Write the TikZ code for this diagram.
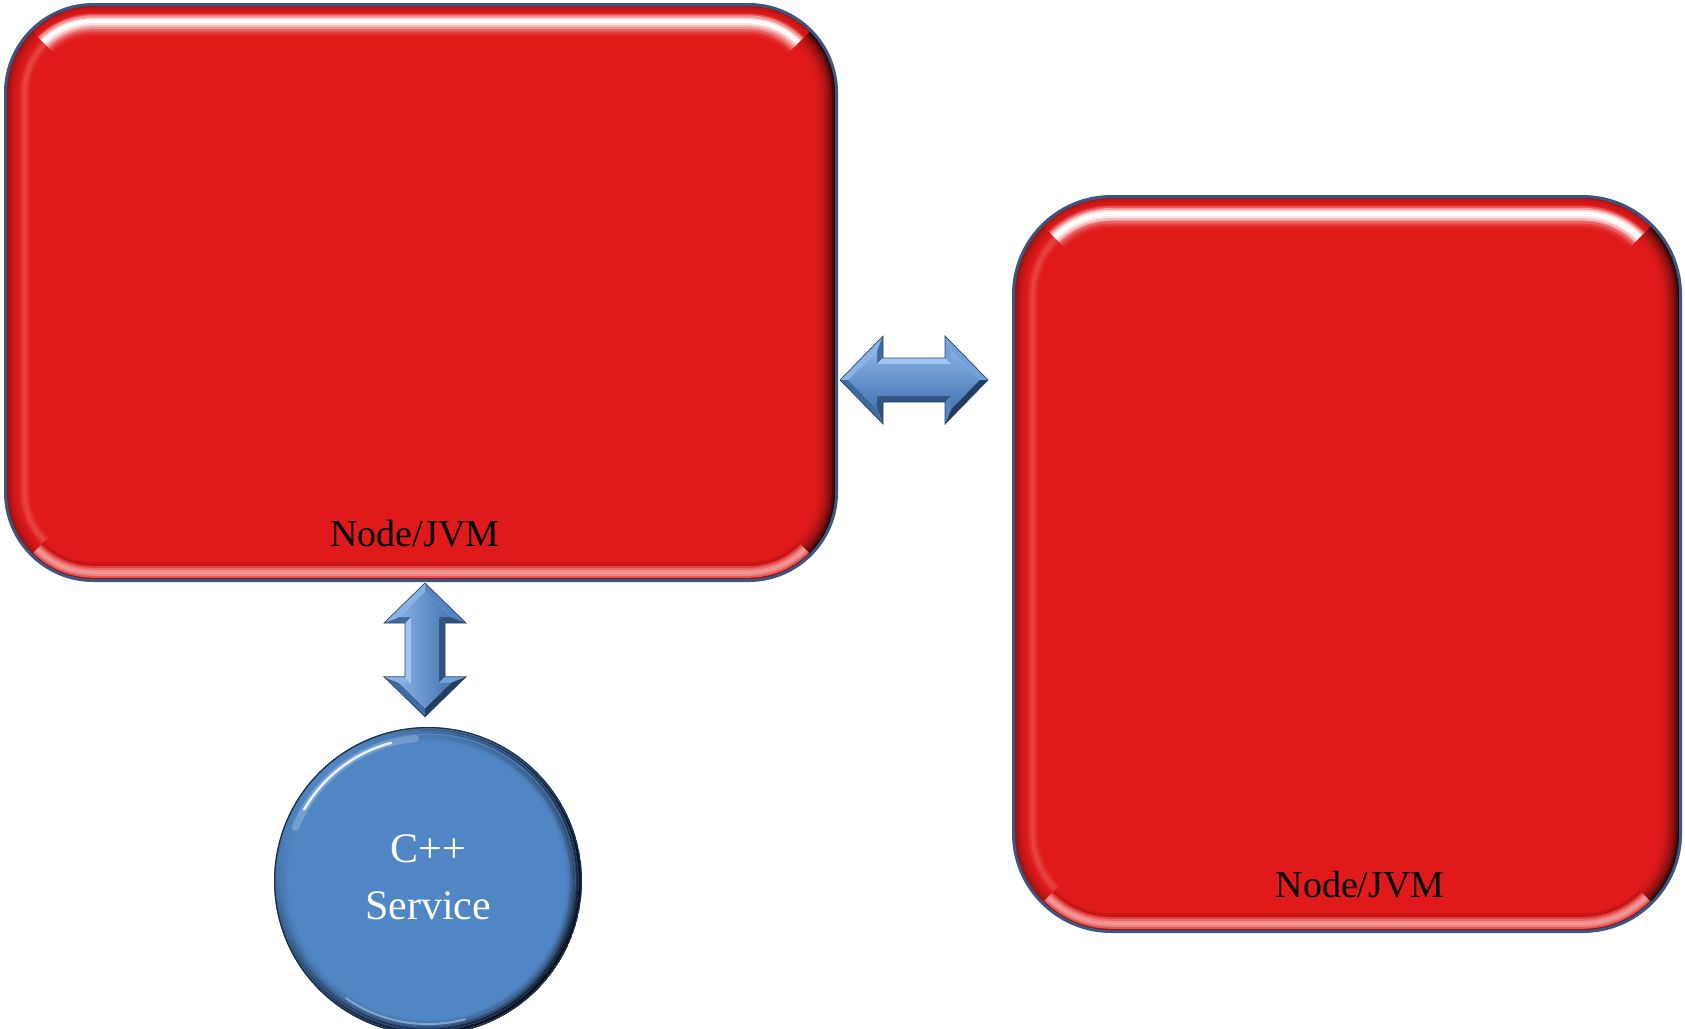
\documentclass[tikz,border=0pt]{standalone}
\usepackage{fontspec}
\setmainfont{Liberation Serif}
\usetikzlibrary{calc,fadings}

\definecolor{boxred}{HTML}{E01A1A}
\definecolor{edgeblue}{HTML}{3A5782}
\definecolor{svcblue}{HTML}{5186C4}
\definecolor{arrowline}{HTML}{2A4670}
\definecolor{arrowhi}{HTML}{86B0E4}
\definecolor{arrowface}{HTML}{6794CE}
\definecolor{arrowlow}{HTML}{4675B2}
% bevel facet colours, from lightest to darkest
\definecolor{facetA}{HTML}{A2C6F0}
\definecolor{facetB}{HTML}{8AB3E5}
\definecolor{facetC}{HTML}{72A0D8}
\definecolor{facetD}{HTML}{5585C0}
\definecolor{facetE}{HTML}{40699F}
\definecolor{facetF}{HTML}{30527F}
\definecolor{facetG}{HTML}{233D63}

% highlight that fades out towards both ends of an edge
\pgfdeclarehorizontalshading{glintshade}{100bp}{%
  color(0bp)=(pgftransparent!100); color(2bp)=(pgftransparent!100);
  color(9bp)=(pgftransparent!0); color(85bp)=(pgftransparent!0);
  color(94bp)=(pgftransparent!100); color(100bp)=(pgftransparent!100)}
\pgfdeclarefading{glint}{\pgfuseshading{glintshade}}

% one side of the bevelled rim: concentric rounded outlines clipped to a wedge
% #1 clip wedge, #2 corner radius, #3 inset/colour list, #4 extra stroke options
\newcommand\rimside[4]{%
  \begin{scope}
    \path[sharp corners, clip] #1;
    \foreach \rimd/\rimc in {#3} {
      \pgfmathsetmacro\rr{#2-\rimd}
      \draw[draw=\rimc, line width=2.6pt, rounded corners=\rr pt, #4]
        ($(pnw)+(\rimd,\rimd)$) rectangle ($(pse)+(-\rimd,-\rimd)$);
    }
  \end{scope}}

% glossy bevel for the red boxes, #1 = corner radius
\newcommand\bevelbox[1]{%
  \coordinate (pnw) at (path picture bounding box.north west);
  \coordinate (pse) at (path picture bounding box.south east);
  \coordinate (pne) at (path picture bounding box.north east);
  \coordinate (psw) at (path picture bounding box.south west);
  % left
  \rimside{(psw) -- (pnw) -- ($(pnw)+(200,200)$) -- ($(psw)+(200,-200)$) -- cycle}{#1}%
    {0/boxred!55!black, 2/boxred!65!black, 4/boxred!75!black, 6/boxred!82!black,
     8/boxred!88!black, 10/boxred!93!black, 12/boxred!97!black, 14/boxred,
     16/boxred!92!white, 18/boxred!85!white, 20/boxred!82!white, 22/boxred!88!white,
     24/boxred!95!white, 26/boxred}{}
  % right
  \rimside{(pne) -- (pse) -- ($(pse)+(-200,-200)$) -- ($(pne)+(-200,200)$) -- cycle}{#1}%
    {0/black, 2/boxred!15!black, 4/boxred!35!black, 6/boxred!50!black,
     8/boxred!62!black, 10/boxred!72!black, 12/boxred!80!black, 14/boxred!86!black,
     16/boxred!91!black, 18/boxred!95!black, 20/boxred!98!black, 22/boxred}{}
  % bottom
  \rimside{(pse) -- (psw) -- ($(psw)+(200,-200)$) -- ($(pse)+(-200,-200)$) -- cycle}{#1}%
    {0/boxred!50!black, 2/boxred!65!black, 4/boxred!75!white, 6/boxred!55!white,
     8/boxred!45!white, 10/boxred!50!white, 12/boxred!65!white, 14/boxred!85!white,
     16/boxred!85!black, 18/boxred!92!black, 20/boxred}{}
  % top: plain rim first, then the white glint fading out at the corners
  \rimside{(pnw) -- (pne) -- ($(pne)+(-200,200)$) -- ($(pnw)+(200,200)$) -- cycle}{#1}%
    {0/boxred!60!black, 2/boxred!75!black, 4/boxred!85!black, 6/boxred!92!black,
     8/boxred!97!black, 10/boxred!97!white, 12/boxred!92!white, 14/boxred!88!white,
     16/boxred!88!white, 18/boxred!92!white, 20/boxred!96!white, 22/boxred}{}
  \rimside{(pnw) -- (pne) -- ($(pne)+(-200,200)$) -- ($(pnw)+(200,200)$) -- cycle}{#1}%
    {10/boxred!75!white, 12/boxred!45!white, 14/boxred!15!white,
     16/white, 18/white, 20/boxred!10!white, 22/boxred!30!white, 24/boxred!50!white,
     26/boxred!70!white, 28/boxred!85!white, 30/boxred!95!white}{path fading=glint}
}

% glossy bevel for the round service node (angles and radii in canvas units)
\newcommand\bevelcircle{%
  \coordinate (pc) at (path picture bounding box.center);
  \foreach \rimd/\rimo in {1/0.95, 2.5/0.88, 4/0.75, 5.5/0.62, 7/0.5, 8.5/0.38, 10/0.27, 11.5/0.17, 13/0.09, 14.5/0.04} {
    \pgfmathsetmacro\rr{154-\rimd}
    \draw[black, line width=1.7pt, opacity=\rimo, path fading=north, fading angle=45]
      (pc) circle[radius=\rr pt];
  }
  \draw[edgeblue!55!black, line width=1.6pt] (pc) circle[radius=153.5pt];
  \draw[white, line width=7pt, opacity=0.22, line cap=round]
    ($(pc)+(158:143pt)$) arc[start angle=158, end angle=95, radius=143pt];
  \draw[white, line width=2.5pt, opacity=0.85, line cap=round]
    ($(pc)+(150:143pt)$) arc[start angle=150, end angle=105, radius=143pt];
  \draw[svcblue!40!white, line width=2pt, opacity=0.55, line cap=round]
    ($(pc)+(-125:143pt)$) arc[start angle=-125, end angle=-75, radius=143pt];
}

% bevelled double arrow: outer points (#1)0..9, inner points (#1i)0..9,
% #2 = facet colours for the ten edges, #3 = shading of the top face
\newcommand\bevelarrow[3]{%
  \foreach \ea/\eb/\ec in {#2}
    \fill[\ec] (#1\ea) -- (#1\eb) -- (#1i\eb) -- (#1i\ea) -- cycle;
  \shade[#3] (#1i0) -- (#1i1) -- (#1i2) -- (#1i3) -- (#1i4) -- (#1i5)
    -- (#1i6) -- (#1i7) -- (#1i8) -- (#1i9) -- cycle;
  \draw[arrowline, line width=0.7pt, line join=miter]
    (#10) -- (#11) -- (#12) -- (#13) -- (#14) -- (#15)
    -- (#16) -- (#17) -- (#18) -- (#19) -- cycle;
}

\begin{document}
\begin{tikzpicture}[x=1pt, y=-1pt,
  redbox/.style={rectangle, rounded corners=#1pt, draw=edgeblue, line width=3pt,
    fill=boxred, inner sep=0pt, path picture={\bevelbox{#1}}},
  svc/.style={circle, minimum size=308pt, inner sep=0pt, fill=svcblue, text=white,
    align=center, font=\fontsize{42}{57}\selectfont, text depth=8pt,
    path picture={\bevelcircle}},
  jvmlabel/.style={anchor=base, inner sep=0pt, font=\fontsize{38}{40}\selectfont, text=black},
]
\useasboundingbox (0,0) rectangle (1685,1028);
\fill[white] (0,0) rectangle (1685,1028);

% nodes
\node[redbox=88, minimum width=831pt, minimum height=576pt] (box1) at (421,292.5) {};
\node[redbox=98, minimum width=667pt, minimum height=735pt] (box2) at (1347,564) {};
\node[svc] (svc) at (428,881) {C++\\Service};

\node[jvmlabel] (lbl1) at ([xshift=-6pt, yshift=36pt]box1.south) {Node/JVM};
\node[jvmlabel] (lbl2) at ([xshift=13pt, yshift=36pt]box2.south) {Node/JVM};

% arrow end points
\coordinate (hL) at ([xshift=2pt, yshift=-87.5pt]box1.east);
\coordinate (hR) at ([xshift=-24pt, yshift=184pt]box2.west);
\coordinate (vT) at ([xshift=4pt, yshift=-1pt]box1.south);
\coordinate (vB) at ([xshift=-3pt, yshift=10pt]svc.north);

% horizontal double arrow between the two boxes
\coordinate (h0) at (hL);
\coordinate (h1) at ($(hL)+(43,-44)$);
\coordinate (h2) at ($(hL)+(43,-22)$);
\coordinate (h3) at ($(hR)+(-43,-22)$);
\coordinate (h4) at ($(hR)+(-43,-44)$);
\coordinate (h5) at (hR);
\coordinate (h6) at ($(hR)+(-43,44)$);
\coordinate (h7) at ($(hR)+(-43,22)$);
\coordinate (h8) at ($(hL)+(43,22)$);
\coordinate (h9) at ($(hL)+(43,44)$);
\coordinate (hi0) at ($(hL)+(8.5,0)$);
\coordinate (hi1) at ($(hL)+(37,-29)$);
\coordinate (hi2) at ($(hL)+(37,-16)$);
\coordinate (hi3) at ($(hR)+(-37,-16)$);
\coordinate (hi4) at ($(hR)+(-37,-29)$);
\coordinate (hi5) at ($(hR)+(-8.5,0)$);
\coordinate (hi6) at ($(hR)+(-37,29)$);
\coordinate (hi7) at ($(hR)+(-37,16)$);
\coordinate (hi8) at ($(hL)+(37,16)$);
\coordinate (hi9) at ($(hL)+(37,29)$);
\bevelarrow{h}{0/1/facetB, 1/2/facetE, 2/3/facetA, 3/4/facetC, 4/5/facetC,
  5/6/facetG, 6/7/facetD, 7/8/facetF, 8/9/facetF, 9/0/facetE}
  {top color=arrowhi, middle color=arrowface, bottom color=arrowlow}

% vertical double arrow between the first box and the service
\coordinate (v0) at (vT);
\coordinate (v1) at ($(vT)+(41,40)$);
\coordinate (v2) at ($(vT)+(20,40)$);
\coordinate (v3) at ($(vB)+(20,-40)$);
\coordinate (v4) at ($(vB)+(41,-40)$);
\coordinate (v5) at (vB);
\coordinate (v6) at ($(vB)+(-41,-40)$);
\coordinate (v7) at ($(vB)+(-20,-40)$);
\coordinate (v8) at ($(vT)+(-20,40)$);
\coordinate (v9) at ($(vT)+(-41,40)$);
\coordinate (vi0) at ($(vT)+(0,8.5)$);
\coordinate (vi1) at ($(vT)+(26,34)$);
\coordinate (vi2) at ($(vT)+(14,34)$);
\coordinate (vi3) at ($(vB)+(14,-34)$);
\coordinate (vi4) at ($(vB)+(26,-34)$);
\coordinate (vi5) at ($(vB)+(0,-8.5)$);
\coordinate (vi6) at ($(vB)+(-26,-34)$);
\coordinate (vi7) at ($(vB)+(-14,-34)$);
\coordinate (vi8) at ($(vT)+(-14,34)$);
\coordinate (vi9) at ($(vT)+(-26,34)$);
\bevelarrow{v}{0/1/facetD, 1/2/facetF, 2/3/facetF, 3/4/facetC, 4/5/facetG,
  5/6/facetE, 6/7/facetB, 7/8/facetA, 8/9/facetE, 9/0/facetB}
  {left color=arrowhi, middle color=arrowface, right color=arrowlow}
\end{tikzpicture}
\end{document}
